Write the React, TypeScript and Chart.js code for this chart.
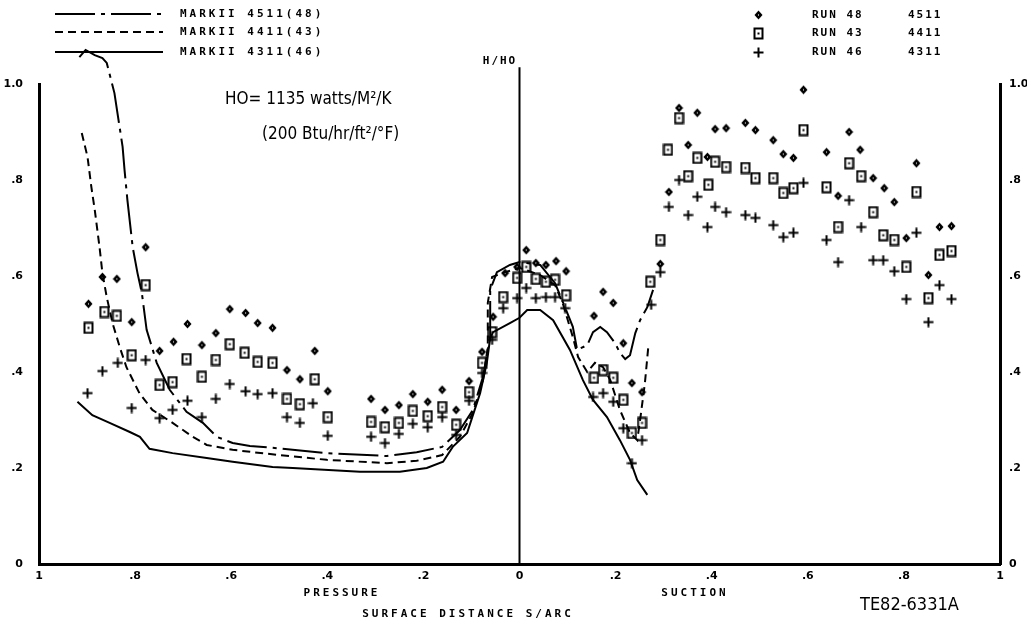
import React, { useEffect, useRef } from "react";
import { Chart, registerables } from "chart.js";

Chart.register(...registerables);

// ---------- data (S/ARC: negative = pressure side, positive = suction side) ----------
const mark4511X = [
  -0.916, -0.903, -0.884, -0.868, -0.859, -0.843, -0.826, -0.822, -0.816, -0.805, -0.795, -0.786,
  -0.776, -0.755, -0.728, -0.693, -0.659, -0.63, -0.597, -0.561, -0.514, -0.401, -0.276, -0.214,
  -0.161, -0.124, -0.097, -0.076, -0.061, -0.061, -0.047, -0.02, 0.0, 0.043, 0.074, 0.091, 0.111,
  0.12, 0.141, 0.153, 0.168, 0.182, 0.199, 0.209, 0.22, 0.23, 0.241, 0.251, 0.266, 0.278,
];
const mark4511Y = [
  1.056, 1.071, 1.06, 1.054, 1.044, 0.981, 0.869, 0.821, 0.758, 0.66, 0.606, 0.565,
  0.488, 0.419, 0.363, 0.317, 0.294, 0.265, 0.252, 0.246, 0.242, 0.231, 0.225, 0.233,
  0.244, 0.279, 0.321, 0.39, 0.473, 0.571, 0.608, 0.623, 0.629, 0.623, 0.585, 0.544, 0.494,
  0.446, 0.456, 0.483, 0.494, 0.483, 0.46, 0.44, 0.427, 0.435, 0.481, 0.508, 0.535, 0.571,
];

const mark4411X = [
  -0.911, -0.899, -0.891, -0.884, -0.874, -0.868, -0.859, -0.847, -0.832, -0.818, -0.791, -0.764,
  -0.722, -0.68, -0.651, -0.597, -0.555, -0.499, -0.401, -0.276, -0.214, -0.161, -0.124, -0.097,
  -0.076, -0.066, -0.066, -0.057, -0.03, 0.0, 0.043, 0.074, 0.091, 0.111, 0.122, 0.141, 0.157,
  0.174, 0.189, 0.209, 0.23, 0.245, 0.251, 0.261, 0.268,
];
const mark4411Y = [
  0.898, 0.848, 0.785, 0.738, 0.66, 0.606, 0.556, 0.502, 0.452, 0.41, 0.356, 0.321,
  0.294, 0.265, 0.248, 0.238, 0.233, 0.227, 0.217, 0.21, 0.215, 0.227, 0.265, 0.315,
  0.383, 0.452, 0.544, 0.598, 0.608, 0.617, 0.602, 0.581, 0.54, 0.473, 0.431, 0.4, 0.419,
  0.41, 0.383, 0.321, 0.273, 0.258, 0.3, 0.377, 0.452,
];

const mark4311X = [
  -0.92, -0.889, -0.853, -0.811, -0.79, -0.77, -0.722, -0.651, -0.597, -0.514, -0.472, -0.332,
  -0.249, -0.193, -0.159, -0.139, -0.109, -0.082, -0.068, -0.061, -0.055, -0.02, 0.0, 0.016,
  0.043, 0.07, 0.105, 0.132, 0.153, 0.182, 0.209, 0.23, 0.245, 0.266,
];
const mark4311Y = [
  0.338, 0.31, 0.294, 0.275, 0.265, 0.24, 0.231, 0.221, 0.213, 0.202, 0.2, 0.192,
  0.192, 0.2, 0.213, 0.244, 0.273, 0.356, 0.419, 0.471, 0.483, 0.502, 0.513, 0.529,
  0.529, 0.508, 0.446, 0.383, 0.342, 0.306, 0.258, 0.217, 0.175, 0.144,
];

const run48X = [
  -0.897, -0.868, -0.838, -0.807, -0.778, -0.749, -0.72, -0.691, -0.661, -0.632, -0.603, -0.57,
  -0.545, -0.514, -0.484, -0.457, -0.426, -0.399, -0.309, -0.28, -0.251, -0.222, -0.191, -0.161,
  -0.132, -0.105, -0.078, -0.055, -0.03, -0.005, 0.014, 0.034, 0.055, 0.076, 0.097, 0.155, 0.174,
  0.195, 0.216, 0.234, 0.255, 0.293, 0.311, 0.332, 0.351, 0.37, 0.391, 0.407, 0.43, 0.47, 0.491,
  0.528, 0.549, 0.57, 0.591, 0.639, 0.663, 0.686, 0.709, 0.736, 0.759, 0.78, 0.805, 0.826, 0.851,
  0.874, 0.899,
];
const run48Y = [
  0.542, 0.598, 0.594, 0.504, 0.66, 0.444, 0.463, 0.5, 0.456, 0.481, 0.531, 0.523,
  0.502, 0.492, 0.404, 0.385, 0.444, 0.36, 0.344, 0.321, 0.331, 0.354, 0.338, 0.363,
  0.321, 0.381, 0.442, 0.515, 0.606, 0.619, 0.654, 0.627, 0.623, 0.631, 0.61, 0.517, 0.567,
  0.544, 0.46, 0.377, 0.358, 0.625, 0.775, 0.95, 0.873, 0.94, 0.848, 0.906, 0.908, 0.919, 0.904,
  0.883, 0.854, 0.846, 0.988, 0.858, 0.767, 0.9, 0.863, 0.804, 0.783, 0.754, 0.679, 0.835, 0.602,
  0.702, 0.704,
];

const run43X = [
  -0.897, -0.864, -0.838, -0.807, -0.778, -0.749, -0.722, -0.693, -0.661, -0.632, -0.603, -0.572,
  -0.545, -0.514, -0.484, -0.457, -0.426, -0.399, -0.309, -0.28, -0.251, -0.222, -0.191, -0.161,
  -0.132, -0.105, -0.078, -0.057, -0.034, -0.005, 0.014, 0.034, 0.055, 0.074, 0.097, 0.155, 0.174,
  0.195, 0.216, 0.234, 0.255, 0.272, 0.293, 0.309, 0.332, 0.351, 0.37, 0.393, 0.407, 0.43, 0.47,
  0.491, 0.528, 0.549, 0.57, 0.591, 0.639, 0.663, 0.686, 0.711, 0.736, 0.757, 0.78, 0.805, 0.826,
  0.851, 0.874, 0.899,
];
const run43Y = [
  0.492, 0.525, 0.517, 0.435, 0.581, 0.373, 0.379, 0.427, 0.39, 0.425, 0.458, 0.44,
  0.421, 0.419, 0.344, 0.333, 0.385, 0.306, 0.296, 0.285, 0.294, 0.319, 0.308, 0.327,
  0.29, 0.358, 0.419, 0.483, 0.556, 0.596, 0.619, 0.594, 0.588, 0.592, 0.56, 0.388, 0.404,
  0.388, 0.342, 0.273, 0.294, 0.588, 0.675, 0.863, 0.929, 0.808, 0.846, 0.79, 0.838, 0.827, 0.825,
  0.804, 0.804, 0.773, 0.783, 0.904, 0.785, 0.702, 0.835, 0.808, 0.733, 0.685, 0.675, 0.619, 0.775,
  0.554, 0.644, 0.652,
];

const run46X = [
  -0.899, -0.868, -0.836, -0.807, -0.778, -0.749, -0.722, -0.691, -0.661, -0.632, -0.603, -0.57,
  -0.545, -0.514, -0.484, -0.457, -0.43, -0.399, -0.309, -0.28, -0.251, -0.222, -0.191, -0.161,
  -0.132, -0.105, -0.078, -0.057, -0.034, -0.005, 0.014, 0.034, 0.055, 0.074, 0.095, 0.153, 0.174,
  0.195, 0.216, 0.234, 0.255, 0.274, 0.293, 0.311, 0.332, 0.351, 0.37, 0.391, 0.407, 0.43, 0.47,
  0.491, 0.528, 0.549, 0.57, 0.591, 0.639, 0.663, 0.686, 0.711, 0.736, 0.757, 0.78, 0.805, 0.826,
  0.851, 0.874, 0.899,
];
const run46Y = [
  0.356, 0.402, 0.419, 0.325, 0.425, 0.304, 0.321, 0.34, 0.306, 0.344, 0.375, 0.36,
  0.354, 0.356, 0.306, 0.294, 0.335, 0.267, 0.265, 0.252, 0.271, 0.292, 0.285, 0.306,
  0.269, 0.34, 0.398, 0.467, 0.533, 0.554, 0.575, 0.554, 0.556, 0.556, 0.533, 0.348, 0.356,
  0.338, 0.283, 0.21, 0.258, 0.54, 0.608, 0.744, 0.8, 0.727, 0.765, 0.702, 0.744, 0.733, 0.727,
  0.721, 0.706, 0.681, 0.69, 0.794, 0.675, 0.629, 0.758, 0.702, 0.633, 0.633, 0.61, 0.552, 0.69,
  0.504, 0.581, 0.552,
];

const centerLineX = [0, 0];
const centerLineY = [0, 1.035];

const curveLabels = ["MARKII 4511(48)", "MARKII 4411(43)", "MARKII 4311(46)"];
const runLabels = ["RUN 48", "RUN 43", "RUN 46"];
const runConfigs = ["4511", "4411", "4311"];

const dashDot = [40, 6, 4, 6];
const dashed = [8, 5];

const zip = (xs: number[], ys: number[]) => xs.map((x, i) => ({ x, y: ys[i] }));

function makeMarker(kind: string): HTMLCanvasElement {
  const c = document.createElement("canvas");
  const ctx = c.getContext("2d")!;
  ctx.strokeStyle = "#000";
  ctx.fillStyle = "#000";
  if (kind === "diamond") {
    c.width = 9; c.height = 10;
    ctx.fillStyle = "#000";
    ctx.beginPath();
    ctx.moveTo(4.5, 0.5); ctx.lineTo(8.5, 5); ctx.lineTo(4.5, 9.5); ctx.lineTo(0.5, 5);
    ctx.closePath(); ctx.fill();
    ctx.fillStyle = "#999"; ctx.fillRect(4, 4, 1, 2);
  } else if (kind === "square") {
    c.width = 11; c.height = 13;
    ctx.lineWidth = 2;
    ctx.strokeRect(1.5, 1.5, 8, 10);
    ctx.fillRect(4.5, 5.5, 2, 2);
  } else {
    c.width = 11; c.height = 11;
    ctx.lineWidth = 2;
    ctx.beginPath();
    ctx.moveTo(5.5, 0.5); ctx.lineTo(5.5, 10.5);
    ctx.moveTo(0.5, 5.5); ctx.lineTo(10.5, 5.5);
    ctx.stroke();
  }
  return c;
}

const fmtX = (v: number) => {
  const a = Math.round(Math.abs(v) * 10);
  if (a === 10) return "1";
  if (a === 0) return "0";
  return "." + a;
};
const fmtY = (v: number) => {
  const a = Math.round(v * 10);
  if (a === 10) return "1.0";
  if (a === 0) return "0";
  return "." + a;
};

export default function App() {
  const ref = useRef<HTMLCanvasElement>(null);

  useEffect(() => {
    const diamond = makeMarker("diamond");
    const square = makeMarker("square");
    const plus = makeMarker("plus");

    const annot = {
      id: "annot",
      afterDraw(chart: any) {
        const ctx: CanvasRenderingContext2D = chart.ctx;
        ctx.save();
        ctx.fillStyle = "#000";
        ctx.strokeStyle = "#000";
        // curve legend
        const rows = [14, 32, 52];
        const dashes = [dashDot, dashed, []];
        ctx.lineWidth = 2;
        dashes.forEach((d, i) => {
          ctx.setLineDash(d as number[]);
          ctx.beginPath();
          ctx.moveTo(55, rows[i]);
          ctx.lineTo(163, rows[i]);
          ctx.stroke();
        });
        ctx.setLineDash([]);
        ctx.textBaseline = "middle";
        ctx.textAlign = "left";
        ctx.font = 'bold 11px "DejaVu Sans Mono"';
        (ctx as any).letterSpacing = "3px";
        curveLabels.forEach((t, i) => ctx.fillText(t, 180, rows[i]));
        // run legend
        const mk = [diamond, square, plus];
        const rrows = [15, 33, 52];
        (ctx as any).letterSpacing = "2px";
        rrows.forEach((y, i) => {
          ctx.drawImage(mk[i], Math.round(758 - mk[i].width / 2), Math.round(y - mk[i].height / 2));
          ctx.fillText(runLabels[i], 812, y);
          ctx.fillText(runConfigs[i], 908, y);
        });
        // H/HO
        ctx.textAlign = "center";
        ctx.fillText("H/HO", 500, 61);
        // axis titles
        (ctx as any).letterSpacing = "3px";
        ctx.fillText("PRESSURE", 342, 593);
        ctx.fillText("SUCTION", 695, 593);
        ctx.fillText("SURFACE DISTANCE S/ARC", 468, 614);
        (ctx as any).letterSpacing = "0px";
        // HO annotation
        ctx.textAlign = "left";
        ctx.font = '17px "DejaVu Sans Condensed", "DejaVu Sans", sans-serif';
        ctx.fillText("HO= 1135 watts/M²/K", 225, 100);
        ctx.fillText("(200 Btu/hr/ft²/°F)", 262, 135);
        ctx.font = '18px "DejaVu Sans Condensed", "DejaVu Sans", sans-serif';
        ctx.fillText("TE82-6331A", 860, 605);
        ctx.restore();
      },
    };

    const tickFont = { family: '"DejaVu Sans"', size: 11, weight: "bold" as const };

    const chart = new Chart(ref.current!, {
      type: "scatter",
      data: {
        datasets: [
          {
            label: "center",
            data: zip(centerLineX, centerLineY),
            showLine: true,
            borderColor: "#000",
            borderWidth: 2,
            pointRadius: 0,
            clip: false as any,
          },
          {
            label: curveLabels[0],
            data: zip(mark4511X, mark4511Y),
            showLine: true,
            borderColor: "#000",
            borderWidth: 2,
            borderDash: dashDot,
            pointRadius: 0,
            clip: false as any,
          },
          {
            label: curveLabels[1],
            data: zip(mark4411X, mark4411Y),
            showLine: true,
            borderColor: "#000",
            borderWidth: 2,
            borderDash: dashed,
            pointRadius: 0,
          },
          {
            label: curveLabels[2],
            data: zip(mark4311X, mark4311Y),
            showLine: true,
            borderColor: "#000",
            borderWidth: 2,
            pointRadius: 0,
          },
          {
            label: runLabels[0],
            data: zip(run48X, run48Y),
            pointStyle: diamond,
            pointRadius: 4,
          },
          {
            label: runLabels[1],
            data: zip(run43X, run43Y),
            pointStyle: square,
            pointRadius: 5,
          },
          {
            label: runLabels[2],
            data: zip(run46X, run46Y),
            pointStyle: plus,
            pointRadius: 5,
          },
        ],
      },
      options: {
        responsive: false,
        animation: false,
        devicePixelRatio: 1,
        layout: { padding: { top: 84, left: 0, right: 0, bottom: 0 } },
        plugins: { legend: { display: false }, tooltip: { enabled: false } },
        scales: {
          x: {
            type: "linear",
            min: -1,
            max: 1,
            grid: { display: false, drawTicks: false },
            border: { display: true, color: "#000", width: 3 },
            ticks: { stepSize: 0.2, callback: (v: any) => fmtX(Number(v)), color: "#000", font: tickFont, padding: 6, maxRotation: 0, autoSkip: false },
            afterFit: (s: any) => { s.height = 60; },
          },
          y: {
            type: "linear",
            position: "left",
            min: 0,
            max: 1,
            grid: { display: false, drawTicks: false },
            border: { display: true, color: "#000", width: 3 },
            ticks: { stepSize: 0.2, callback: (v: any) => fmtY(Number(v)), color: "#000", font: tickFont, padding: 16 },
            afterFit: (s: any) => { s.width = 39; },
          },
          y2: {
            type: "linear",
            position: "right",
            min: 0,
            max: 1,
            grid: { display: false, drawTicks: false },
            border: { display: true, color: "#000", width: 3 },
            ticks: { stepSize: 0.2, callback: (v: any) => fmtY(Number(v)), color: "#000", font: tickFont, padding: 9 },
            afterFit: (s: any) => { s.width = 27; },
          },
        },
      },
      plugins: [annot],
    });
    return () => chart.destroy();
  }, []);

  return (
    <canvas
      ref={ref}
      width={1027}
      height={624}
      style={{ position: "fixed", left: 0, top: 0, width: 1027, height: 624, background: "#fff" }}
    />
  );
}
